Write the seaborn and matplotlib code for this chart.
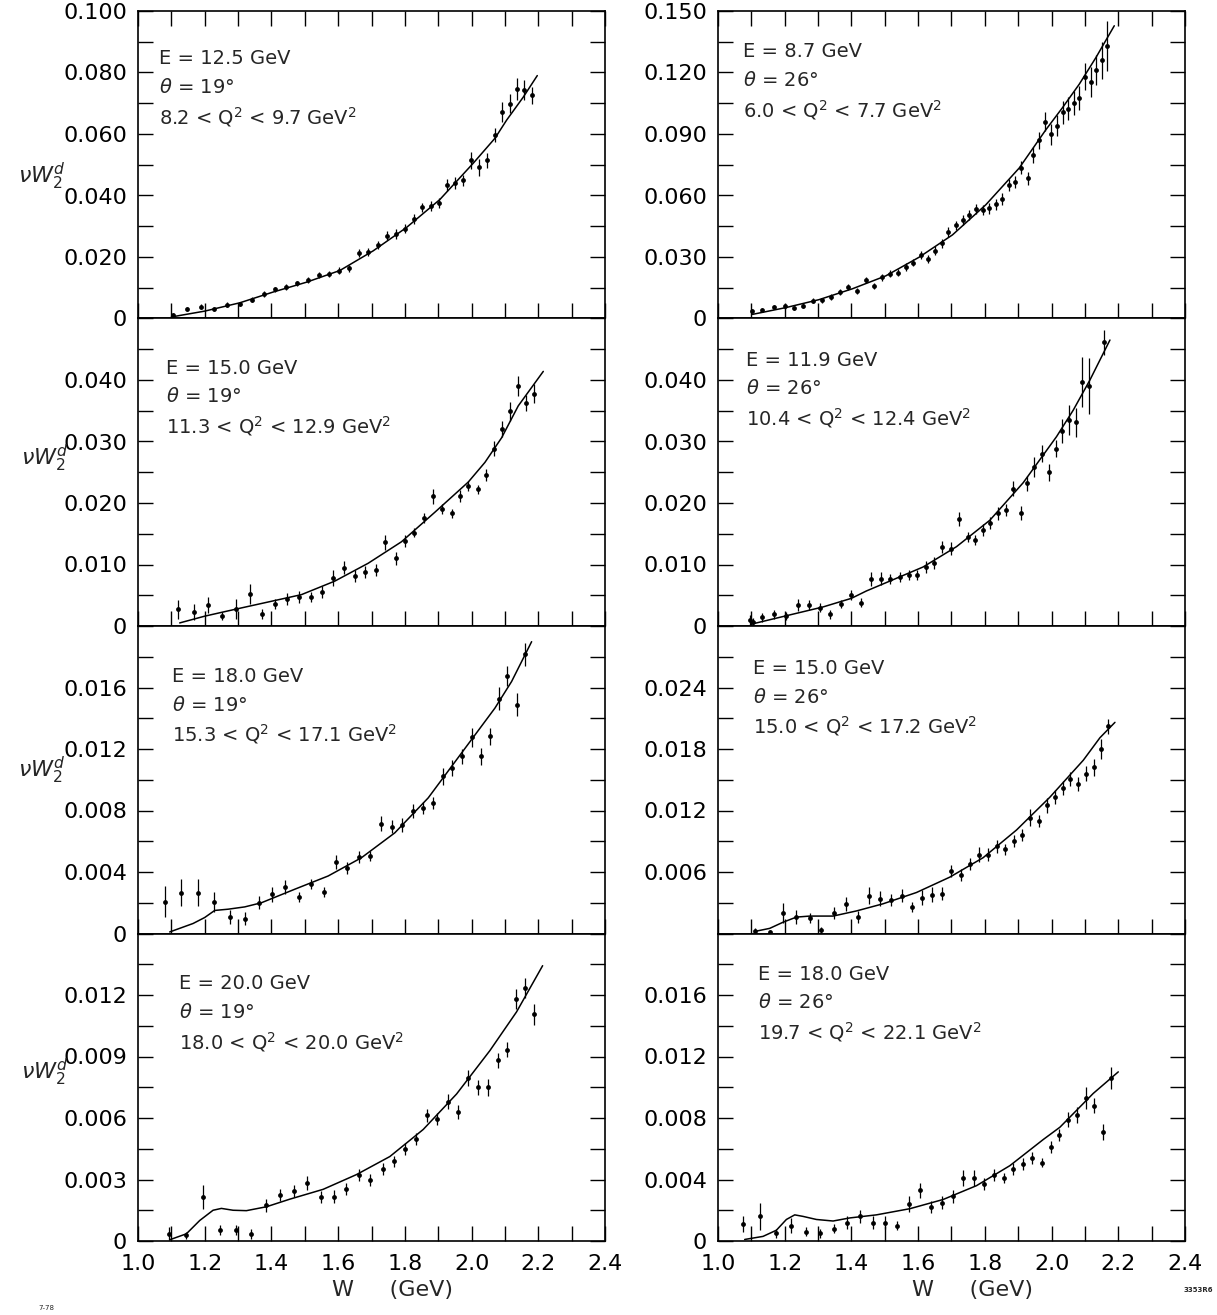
import numpy as np
import pandas as pd
import matplotlib
matplotlib.use("Agg")
import matplotlib.pyplot as plt
import seaborn as sns

# ---------------- data ----------------
w_ticks = [1.0, 1.1, 1.2, 1.3, 1.4, 1.5, 1.6, 1.7, 1.8, 1.9, 2.0, 2.1, 2.2, 2.3, 2.4]
w_tick_labels = ["1.0", "", "1.2", "", "1.4", "", "1.6", "", "1.8", "", "2.0", "", "2.2", "", "2.4"]

# Panel L1 : E = 12.5 GeV, theta = 19
l1_w = [1.105, 1.148, 1.19, 1.227, 1.267, 1.305, 1.342, 1.377, 1.411, 1.445, 1.477, 1.51, 1.542,
        1.572, 1.603, 1.633, 1.662, 1.691, 1.719, 1.747, 1.774, 1.80, 1.827, 1.852, 1.878, 1.903,
        1.927, 1.951, 1.975, 1.999, 2.023, 2.047, 2.07, 2.092, 2.114, 2.136, 2.158, 2.181]
l1_v = [0.0011, 0.0030, 0.0038, 0.0030, 0.0045, 0.0047, 0.0061, 0.0080, 0.0095, 0.0102, 0.0114,
        0.0125, 0.0142, 0.0144, 0.0155, 0.0163, 0.0213, 0.0215, 0.0239, 0.0269, 0.0275, 0.0292,
        0.0323, 0.0361, 0.0366, 0.0376, 0.0434, 0.0441, 0.0449, 0.0514, 0.0492, 0.0514, 0.0597,
        0.0672, 0.0699, 0.0747, 0.0742, 0.0726]
l1_err = [0.0008, 0.0007, 0.0008, 0.0007, 0.0008, 0.0007, 0.0008, 0.0009, 0.0009, 0.0009,
          0.0009, 0.0010, 0.0010, 0.0010, 0.0011, 0.0012, 0.0013, 0.0013, 0.0014, 0.0014,
          0.0015, 0.0015, 0.0016, 0.0016, 0.0016, 0.0017, 0.0019, 0.0019, 0.0018, 0.0027,
          0.0027, 0.0025, 0.0024, 0.0032, 0.0032, 0.0035, 0.0032, 0.0027]
l1_curve_w = [1.10, 1.20, 1.305, 1.405, 1.505, 1.605, 1.705, 1.805, 1.905, 2.005, 2.07, 2.105, 2.155, 2.197]
l1_curve_v = [0.0005, 0.0024, 0.0051, 0.0086, 0.0118, 0.0156, 0.0220, 0.0296, 0.0387, 0.0505,
              0.0586, 0.0645, 0.0720, 0.0790]

# Panel L2 : E = 15.0 GeV, theta = 19
l2_w = [1.12, 1.167, 1.21, 1.253, 1.295, 1.335, 1.373, 1.41, 1.447, 1.483, 1.518, 1.552, 1.586,
        1.617, 1.65, 1.682, 1.713, 1.741, 1.772, 1.80, 1.828, 1.856, 1.884, 1.912, 1.94, 1.965,
        1.99, 2.018, 2.042, 2.067, 2.09, 2.115, 2.138, 2.162, 2.186]
l2_v = [0.0027, 0.0023, 0.0034, 0.0016, 0.0028, 0.0052, 0.0020, 0.0036, 0.0044, 0.0047, 0.0047,
        0.0055, 0.0078, 0.0095, 0.0081, 0.0088, 0.0091, 0.0136, 0.0110, 0.0138, 0.0152, 0.0175,
        0.0211, 0.0190, 0.0183, 0.0211, 0.0228, 0.0222, 0.0246, 0.0288, 0.0321, 0.0349, 0.0390,
        0.0362, 0.0378]
l2_err = [0.0016, 0.0013, 0.0013, 0.0006, 0.0016, 0.0016, 0.0008, 0.0008, 0.0010, 0.0010, 0.0008,
          0.0010, 0.0013, 0.0011, 0.0010, 0.0010, 0.0010, 0.0012, 0.0010, 0.0010, 0.0008, 0.0008,
          0.0012, 0.0008, 0.0008, 0.0010, 0.0008, 0.0008, 0.0010, 0.0012, 0.0013, 0.0016, 0.0016,
          0.0013, 0.0016]
l2_curve_w = [1.125, 1.20, 1.29, 1.49, 1.59, 1.69, 1.79, 1.89, 1.99, 2.04, 2.09, 2.14, 2.215]
l2_curve_v = [0.0005, 0.0016, 0.0027, 0.0051, 0.0073, 0.0102, 0.0137, 0.0185, 0.0234, 0.0266,
              0.0306, 0.0358, 0.0414]

# Panel L3 : E = 18.0 GeV, theta = 19
l3_w = [1.08, 1.13, 1.18, 1.228, 1.276, 1.32, 1.362, 1.402, 1.442, 1.482, 1.52, 1.558, 1.593,
        1.628, 1.662, 1.696, 1.727, 1.76, 1.792, 1.823, 1.855, 1.885, 1.913, 1.942, 1.972, 2.0,
        2.029, 2.056, 2.081, 2.107, 2.135, 2.16]
l3_v = [0.00208, 0.00266, 0.00266, 0.00208, 0.00108, 0.00097, 0.00201, 0.00255, 0.00303, 0.00238,
        0.00320, 0.00270, 0.00465, 0.00428, 0.00497, 0.00504, 0.00714, 0.00694, 0.00705, 0.00796,
        0.00817, 0.00850, 0.01023, 0.01077, 0.01153, 0.01276, 0.01153, 0.01282, 0.01527, 0.01678,
        0.01488, 0.01816]
l3_err = [0.00102, 0.00086, 0.00086, 0.00065, 0.00048, 0.00043, 0.00043, 0.00048, 0.00048, 0.00032,
          0.00032, 0.00032, 0.00043, 0.00039, 0.00039, 0.00032, 0.00048, 0.00043, 0.00048, 0.00048,
          0.00039, 0.00039, 0.00054, 0.00054, 0.00048, 0.00060, 0.00054, 0.00054, 0.00076, 0.00065,
          0.00076, 0.00076]
l3_curve_w = [1.095, 1.165, 1.20, 1.23, 1.27, 1.32, 1.37, 1.47, 1.57, 1.67, 1.77, 1.87, 1.97,
              2.07, 2.12, 2.18]
l3_curve_v = [0.0001, 0.00065, 0.00104, 0.0015, 0.00158, 0.00173, 0.0020, 0.00288, 0.00374,
              0.00493, 0.00655, 0.00882, 0.01174, 0.01466, 0.01639, 0.01898]

# Panel L4 : E = 20.0 GeV, theta = 19
l4_w = [1.092, 1.145, 1.195, 1.245, 1.295, 1.34, 1.383, 1.426, 1.468, 1.508, 1.548, 1.587, 1.625,
        1.662, 1.697, 1.733, 1.767, 1.80, 1.832, 1.865, 1.897, 1.928, 1.96, 1.99, 2.02, 2.05,
        2.078, 2.106, 2.132, 2.16, 2.188]
l4_v = [0.00035, 0.00027, 0.00215, 0.00055, 0.00055, 0.00035, 0.00175, 0.00223, 0.00244, 0.00284,
        0.00215, 0.00215, 0.00252, 0.00321, 0.00297, 0.00353, 0.00388, 0.00449, 0.00497, 0.00613,
        0.00594, 0.00680, 0.00629, 0.00794, 0.00749, 0.00749, 0.00881, 0.00934, 0.01182, 0.01234,
        0.01105]
l4_err = [0.00032, 0.00016, 0.00059, 0.00024, 0.00024, 0.00024, 0.00032, 0.00029, 0.00029, 0.00035,
          0.00029, 0.00032, 0.00029, 0.00029, 0.00029, 0.00029, 0.00029, 0.00029, 0.00029, 0.00032,
          0.00029, 0.00035, 0.00035, 0.00040, 0.00035, 0.00040, 0.00035, 0.00035, 0.00048, 0.00051,
          0.00053]
l4_curve_w = [1.095, 1.145, 1.185, 1.225, 1.25, 1.285, 1.325, 1.385, 1.455, 1.555, 1.655, 1.755,
              1.855, 1.955, 2.055, 2.135, 2.213]
l4_curve_v = [0.00006, 0.00035, 0.0010, 0.0015, 0.00159, 0.0015, 0.00148, 0.00167, 0.00204,
              0.00252, 0.00324, 0.00412, 0.00544, 0.00717, 0.00929, 0.01118, 0.01343]

# Panel R1 : E = 8.7 GeV, theta = 26
r1_w = [1.103, 1.133, 1.168, 1.201, 1.228, 1.255, 1.285, 1.313, 1.34, 1.366, 1.391, 1.418, 1.443,
        1.467, 1.491, 1.515, 1.539, 1.563, 1.585, 1.608, 1.63, 1.651, 1.671, 1.691, 1.713, 1.733,
        1.753, 1.773, 1.793, 1.813, 1.833, 1.851, 1.871, 1.89, 1.909, 1.928, 1.945, 1.963, 1.979,
        1.997, 2.015, 2.033, 2.049, 2.067, 2.083, 2.101, 2.118, 2.133, 2.15, 2.166]
r1_v = [0.0036, 0.0041, 0.0054, 0.0059, 0.0050, 0.0062, 0.0086, 0.0089, 0.0105, 0.0129, 0.0153,
        0.0136, 0.0188, 0.0160, 0.0200, 0.0219, 0.0224, 0.0251, 0.0272, 0.0309, 0.0292, 0.0331,
        0.0368, 0.0420, 0.0454, 0.0482, 0.0506, 0.0535, 0.0528, 0.0538, 0.0557, 0.0583, 0.0651,
        0.0667, 0.0736, 0.0683, 0.0797, 0.0870, 0.0960, 0.0898, 0.0940, 0.1005, 0.1024, 0.1052,
        0.1076, 0.1179, 0.1154, 0.1211, 0.1260, 0.1330]
r1_err = [0.0010, 0.0010, 0.0010, 0.0012, 0.0010, 0.0012, 0.0012, 0.0012, 0.0013, 0.0013,
          0.0015, 0.0015, 0.0015, 0.0015, 0.0016, 0.0016, 0.0016, 0.0018, 0.0018, 0.0020,
          0.0020, 0.0022, 0.0022, 0.0024, 0.0024, 0.0025, 0.0025, 0.0025, 0.0025, 0.0026,
          0.0026, 0.0028, 0.0030, 0.0030, 0.0032, 0.0032, 0.0040, 0.0042, 0.0045, 0.0050,
          0.0052, 0.0055, 0.0057, 0.0060, 0.0060, 0.0066, 0.0074, 0.0074, 0.0090, 0.0123]
r1_curve_w = [1.103, 1.203, 1.303, 1.403, 1.503, 1.603, 1.703, 1.803, 1.903, 1.983, 2.033,
              2.083, 2.133, 2.188]
r1_curve_v = [0.0020, 0.0053, 0.0092, 0.0145, 0.0208, 0.0299, 0.0408, 0.0555, 0.0734, 0.0921,
              0.1029, 0.1143, 0.1273, 0.1428]

# Panel R2 : E = 11.9 GeV, theta = 26
r2_w = [1.095, 1.105, 1.132, 1.168, 1.205, 1.24, 1.273, 1.305, 1.337, 1.37, 1.40, 1.43, 1.458,
        1.488, 1.517, 1.545, 1.572, 1.598, 1.623, 1.648, 1.673, 1.698, 1.722, 1.748, 1.771, 1.794,
        1.816, 1.839, 1.862, 1.884, 1.907, 1.927, 1.948, 1.97, 1.992, 2.012, 2.032, 2.052, 2.072,
        2.091, 2.112, 2.158]
r2_v = [0.0010, 0.0006, 0.0014, 0.0019, 0.0016, 0.0034, 0.0034, 0.0030, 0.0019, 0.0036, 0.0050,
        0.0038, 0.0076, 0.0077, 0.0076, 0.0080, 0.0083, 0.0083, 0.0096, 0.0102, 0.0129, 0.0126,
        0.0174, 0.0145, 0.0140, 0.0156, 0.0167, 0.0183, 0.0189, 0.0223, 0.0184, 0.0232, 0.0258,
        0.0280, 0.0250, 0.0288, 0.0317, 0.0335, 0.0331, 0.0397, 0.0390, 0.0461]
r2_err = [0.0008, 0.0007, 0.0007, 0.0007, 0.0007, 0.0010, 0.0008, 0.0007, 0.0007, 0.0007, 0.0008,
          0.0007, 0.0011, 0.0010, 0.0008, 0.0008, 0.0008, 0.0008, 0.0010, 0.0010, 0.0010, 0.0010,
          0.0012, 0.0008, 0.0008, 0.0010, 0.0010, 0.0010, 0.0010, 0.0012, 0.0011, 0.0012, 0.0016,
          0.0014, 0.0014, 0.0014, 0.0019, 0.0024, 0.0024, 0.0041, 0.0046, 0.0021]
r2_curve_w = [1.10, 1.215, 1.315, 1.40, 1.445, 1.515, 1.615, 1.715, 1.815, 1.915, 2.015, 2.065,
              2.115, 2.175]
r2_curve_v = [0.0003, 0.0018, 0.0031, 0.0045, 0.0057, 0.0073, 0.0096, 0.0129, 0.0172, 0.0233,
              0.0308, 0.0351, 0.0400, 0.0465]

# Panel R3 : E = 15.0 GeV, theta = 26
r3_w = [1.11, 1.155, 1.195, 1.235, 1.275, 1.31, 1.348, 1.385, 1.42, 1.453, 1.487, 1.519, 1.551,
        1.582, 1.612, 1.642, 1.672, 1.70, 1.728, 1.755, 1.782, 1.808, 1.835, 1.861, 1.887, 1.911,
        1.936, 1.962, 1.985, 2.01, 2.033, 2.056, 2.08, 2.103, 2.126, 2.148, 2.17]
r3_v = [0.0002, 0.0001, 0.0020, 0.0016, 0.0015, 0.0003, 0.0020, 0.0029, 0.0016, 0.0037, 0.0034,
        0.0033, 0.0037, 0.0026, 0.0035, 0.0038, 0.0039, 0.0061, 0.0057, 0.0068, 0.0077, 0.0077,
        0.0085, 0.0082, 0.0090, 0.0096, 0.0113, 0.0110, 0.0125, 0.0133, 0.0142, 0.0151, 0.0146,
        0.0156, 0.0162, 0.0180, 0.0202]
r3_err = [0.0003, 0.0002, 0.0010, 0.0007, 0.0005, 0.0003, 0.0006, 0.0007, 0.0006, 0.0008, 0.0007,
          0.0006, 0.0006, 0.0005, 0.0007, 0.0007, 0.0006, 0.0006, 0.0006, 0.0006, 0.0007, 0.0006,
          0.0006, 0.0005, 0.0006, 0.0006, 0.0008, 0.0006, 0.0007, 0.0007, 0.0007, 0.0007, 0.0007,
          0.0007, 0.0008, 0.0010, 0.0007]
r3_curve_w = [1.11, 1.155, 1.195, 1.235, 1.275, 1.345, 1.415, 1.495, 1.595, 1.695, 1.795, 1.895,
              1.995, 2.095, 2.145, 2.19]
r3_curve_v = [0.0002, 0.0005, 0.0011, 0.0016, 0.0017, 0.0017, 0.0022, 0.0029, 0.0040, 0.0055,
              0.0074, 0.0101, 0.0133, 0.0169, 0.0191, 0.0206]

# Panel R4 : E = 18.0 GeV, theta = 26
r4_w = [1.075, 1.125, 1.175, 1.22, 1.265, 1.305, 1.348, 1.387, 1.427, 1.465, 1.502, 1.538, 1.572,
        1.605, 1.64, 1.673, 1.705, 1.735, 1.767, 1.797, 1.827, 1.857, 1.885, 1.915, 1.942, 1.97,
        1.997, 2.023, 2.05, 2.077, 2.103, 2.128, 2.155, 2.178]
r4_v = [0.0011, 0.0016, 0.0005, 0.0010, 0.0006, 0.0005, 0.0008, 0.0012, 0.0016, 0.0012, 0.0012,
        0.0010, 0.0024, 0.0033, 0.0022, 0.0025, 0.0029, 0.0041, 0.0041, 0.0037, 0.0043, 0.0041,
        0.0047, 0.0050, 0.0054, 0.0051, 0.0061, 0.0069, 0.0079, 0.0082, 0.0093, 0.0088, 0.0071,
        0.0106]
r4_err = [0.0005, 0.0009, 0.0003, 0.0005, 0.0003, 0.0003, 0.0003, 0.0004, 0.0004, 0.0004, 0.0004,
          0.0003, 0.0005, 0.0005, 0.0004, 0.0004, 0.0004, 0.0005, 0.0005, 0.0004, 0.0004, 0.0003,
          0.0004, 0.0004, 0.0004, 0.0003, 0.0004, 0.0004, 0.0005, 0.0005, 0.0007, 0.0005, 0.0005,
          0.0007]
r4_curve_w = [1.08, 1.135, 1.175, 1.205, 1.23, 1.255, 1.295, 1.345, 1.395, 1.475, 1.575, 1.675,
              1.775, 1.875, 1.975, 2.025, 2.075, 2.125, 2.2]
r4_curve_v = [0.0001, 0.0003, 0.0007, 0.0014, 0.0017, 0.0016, 0.0014, 0.0013, 0.0015, 0.0017,
              0.0021, 0.0027, 0.0036, 0.0049, 0.0066, 0.0074, 0.0085, 0.0096, 0.0110]

# panel captions
energies = ["12.5", "15.0", "18.0", "20.0", "8.7", "11.9", "15.0", "18.0"]
angles = ["19", "19", "19", "19", "26", "26", "26", "26"]
q2_low = ["8.2", "11.3", "15.3", "18.0", "6.0", "10.4", "15.0", "19.7"]
q2_high = ["9.7", "12.9", "17.1", "20.0", "7.7", "12.4", "17.2", "22.1"]

# y axes: upper limit, tick step, tick labels
y_max = [0.100, 0.050, 0.020, 0.015, 0.150, 0.050, 0.030, 0.020]
y_minor_step = [0.010, 0.005, 0.002, 0.0015, 0.015, 0.005, 0.003, 0.002]
y_tick_labels = [
    ["0", "", "0.020", "", "0.040", "", "0.060", "", "0.080", "", "0.100"],
    ["0", "", "0.010", "", "0.020", "", "0.030", "", "0.040", "", ""],
    ["0", "", "0.004", "", "0.008", "", "0.012", "", "0.016", "", ""],
    ["0", "", "0.003", "", "0.006", "", "0.009", "", "0.012", "", ""],
    ["0", "", "0.030", "", "0.060", "", "0.090", "", "0.120", "", "0.150"],
    ["0", "", "0.010", "", "0.020", "", "0.030", "", "0.040", "", ""],
    ["", "", "0.006", "", "0.012", "", "0.018", "", "0.024", "", ""],
    ["0", "", "0.004", "", "0.008", "", "0.012", "", "0.016", "", ""],
]

# ---------------- layout (positions / style) ----------------
text_pos = [(0.045, 0.844), (0.060, 0.839), (0.073, 0.837), (0.088, 0.836),
            (0.054, 0.867), (0.060, 0.865), (0.075, 0.863), (0.086, 0.868)]
line_gap = 0.094
ylabel_pos = [(42, 176), (45, 458), (42, 770), (45, 1072)]

sns.set_style("ticks")
plt.rcParams["font.family"] = ["DejaVu Sans"]
plt.rcParams["mathtext.fontset"] = "dejavusans"

panels = [
    (l1_w, l1_v, l1_err, l1_curve_w, l1_curve_v),
    (l2_w, l2_v, l2_err, l2_curve_w, l2_curve_v),
    (l3_w, l3_v, l3_err, l3_curve_w, l3_curve_v),
    (l4_w, l4_v, l4_err, l4_curve_w, l4_curve_v),
    (r1_w, r1_v, r1_err, r1_curve_w, r1_curve_v),
    (r2_w, r2_v, r2_err, r2_curve_w, r2_curve_v),
    (r3_w, r3_v, r3_err, r3_curve_w, r3_curve_v),
    (r4_w, r4_v, r4_err, r4_curve_w, r4_curve_v),
]

W_PX, H_PX = 1217, 1315
fig = plt.figure(figsize=(W_PX / 100, H_PX / 100), dpi=100)
gs = fig.add_gridspec(4, 2, left=138 / W_PX, right=1185 / W_PX,
                      top=1 - 11 / H_PX, bottom=1 - 1241 / H_PX,
                      hspace=0, wspace=113 / 467)

for i, (w, v, err, cw, cv) in enumerate(panels):
    col, row = divmod(i, 4)
    ax = fig.add_subplot(gs[row, col])
    df = pd.DataFrame({"W": w, "v": v, "err": err})
    cdf = pd.DataFrame({"W": cw, "v": cv})

    ax.errorbar(df["W"], df["v"], yerr=df["err"], fmt="none", ecolor="black",
                elinewidth=0.9, capsize=0, zorder=2)
    sns.scatterplot(data=df, x="W", y="v", ax=ax, color="black", s=12,
                    edgecolor="black", linewidth=0, zorder=3, legend=False)
    sns.lineplot(data=cdf, x="W", y="v", ax=ax, color="black", linewidth=1.1,
                 estimator=None, sort=False, zorder=2, legend=False)

    ax.set_xlim(1.0, 2.4)
    ax.set_ylim(0, y_max[i])
    ax.set_xlabel("")
    ax.set_ylabel("")

    ax.set_xticks(w_ticks)
    if row == 3:
        ax.set_xticklabels(w_tick_labels)
    else:
        ax.set_xticklabels([""] * len(w_ticks))
    n_y = int(round(y_max[i] / y_minor_step[i])) + 1
    yt = [k * y_minor_step[i] for k in range(n_y)]
    ax.set_yticks(yt)
    ax.set_yticklabels(y_tick_labels[i][:n_y])

    ax.tick_params(axis="both", direction="in", length=11, width=1.0,
                   labelsize=16, pad=8, colors="black")
    ax.tick_params(axis="x", top=(row == 0), bottom=True, pad=9)
    ax.tick_params(axis="y", right=True, left=True)
    for sp in ax.spines.values():
        sp.set_visible(True)
        sp.set_linewidth(1.2)
        sp.set_color("black")

    tx, ty = text_pos[i]
    ax.text(tx, ty, f"E = {energies[i]} GeV", transform=ax.transAxes,
            fontsize=14, va="center", ha="left")
    ax.text(tx, ty - line_gap, rf"$\theta$ = {angles[i]}°", transform=ax.transAxes,
            fontsize=14, va="center", ha="left")
    ax.text(tx, ty - 2 * line_gap,
            rf"{q2_low[i]} < Q$^2$ < {q2_high[i]} GeV$^2$", transform=ax.transAxes,
            fontsize=14, va="center", ha="left")

    if row == 3:
        ax.set_xlabel("W     (GeV)", fontsize=16)
        ax.xaxis.set_label_coords(0.545, -0.16)
        ax.xaxis.label.set_va("center")

for (x, y) in ylabel_pos:
    fig.text(x / W_PX, 1 - y / H_PX, r"$\nu W_2^d$", fontsize=16, ha="center", va="center")

fig.text(38 / W_PX, 1 - 1308 / H_PX, "7-78", fontsize=5, ha="left", va="center")
fig.text(1198 / W_PX, 1 - 1290 / H_PX, "3353R6", fontsize=5, fontweight="bold",
         ha="center", va="center")

fig.savefig("out.png", dpi=100)
